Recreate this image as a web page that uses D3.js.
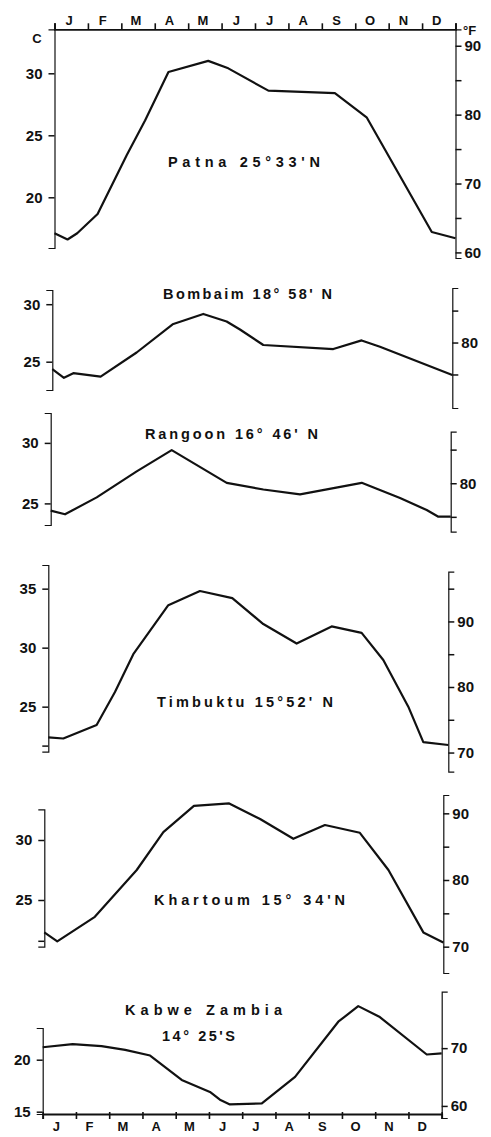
<!DOCTYPE html>
<html>
<head>
<meta charset="utf-8">
<script src="https://cdn.jsdelivr.net/npm/d3@7"></script>
<style>
  body { margin: 0; background: #fff; }
  svg text { font-family: "Liberation Sans", Arial, sans-serif; font-weight: bold; fill: #111; }
</style>
</head>
<body>
<svg id="chart" width="491" height="1137"></svg>
<script>
// Monthly mean temperature curves (°C, with a °F scale on the right)
const monthLabels = ["J", "F", "M", "A", "M", "J", "J", "A", "S", "O", "N", "D"];

// Patna 25°33'N
const patnaMonth = [0, 0.39, 0.68, 1.29, 2.16, 2.71, 3.41, 4.60, 5.20, 6.40, 8.39, 9.34, 11.29, 12];
const patnaTemp  = [17.1, 16.6, 17.1, 18.65, 23.4, 26.2, 30.1, 31.0, 30.4, 28.6, 28.4, 26.45, 17.2, 16.7];
const patnaCTicks = [30, 25, 20];
const patnaCLabels = ["30", "25", "20"];
const patnaFTicks = [90, 85, 80, 75, 70, 65, 60];
const patnaFLabels = ["90", "", "80", "", "70", "", "60"];

// Bombaim 18°58'N
const bombaimMonth = [0, 0.35, 0.63, 1.45, 2.53, 3.61, 4.53, 5.23, 5.63, 6.33, 8.43, 9.28, 9.83, 12];
const bombaimTemp  = [24.35, 23.6, 24.0, 23.7, 25.8, 28.25, 29.15, 28.5, 27.8, 26.45, 26.1, 26.85, 26.3, 23.85];
const bombaimCTicks = [30, 25];
const bombaimCLabels = ["30", "25"];
const bombaimFTicks = [85, 80, 75];
const bombaimFLabels = ["", "80", ""];

// Rangoon 16°46'N
const rangoonMonth = [0, 0.43, 1.38, 2.58, 3.63, 5.28, 6.38, 7.48, 9.33, 10.48, 11.28, 11.63, 12];
const rangoonTemp  = [24.4, 24.1, 25.5, 27.65, 29.4, 26.7, 26.15, 25.75, 26.7, 25.45, 24.45, 23.9, 23.9];
const rangoonCTicks = [30, 25];
const rangoonCLabels = ["30", "25"];
const rangoonFTicks = [85, 80, 75];
const rangoonFLabels = ["", "80", ""];

// Timbuktu 15°52'N
const timbuktuMonth = [0, 0.45, 1.45, 2.0, 2.55, 3.60, 4.55, 5.52, 6.45, 7.45, 8.50, 9.40, 10.05, 10.80, 11.25, 12];
const timbuktuTemp  = [22.4, 22.3, 23.45, 26.25, 29.45, 33.6, 34.8, 34.2, 32.0, 30.35, 31.8, 31.25, 28.95, 25.0, 22.0, 21.75];
const timbuktuCTicks = [35, 30, 25, 21.7];
const timbuktuCLabels = ["35", "30", "25", ""];
const timbuktuFTicks = [95, 90, 85, 80, 75, 70];
const timbuktuFLabels = ["", "90", "", "80", "", "70"];

// Khartoum 15°34'N
const khartoumMonth = [0, 0.39, 1.52, 2.78, 3.58, 4.50, 5.56, 6.49, 7.49, 8.44, 9.49, 10.35, 11.40, 12];
const khartoumTemp  = [22.3, 21.55, 23.6, 27.5, 30.65, 32.85, 33.05, 31.75, 30.1, 31.25, 30.6, 27.5, 22.3, 21.45];
const khartoumCTicks = [30, 25, 21.6];
const khartoumCLabels = ["30", "25", ""];
const khartoumFTicks = [90, 85, 80, 75, 70];
const khartoumFLabels = ["90", "", "80", "", "70"];

// Kabwe, Zambia 14°25'S
const kabweMonth = [0, 0.90, 1.77, 2.48, 3.23, 4.18, 5.03, 5.33, 5.63, 6.59, 7.59, 8.89, 9.49, 10.14, 11.55, 12];
const kabweTemp  = [21.2, 21.5, 21.3, 20.95, 20.4, 18.05, 16.9, 16.15, 15.7, 15.8, 18.35, 23.65, 25.15, 24.1, 20.5, 20.6];
const kabweCTicks = [20, 15];
const kabweCLabels = ["20", "15"];
const kabweFTicks = [70, 60];
const kabweFLabels = ["70", "60"];

const stationTitles = [
  ["Patna 25°33'N"],
  ["Bombaim 18° 58' N"],
  ["Rangoon 16° 46' N"],
  ["Timbuktu 15°52' N"],
  ["Khartoum 15° 34'N"],
  ["Kabwe Zambia", "14° 25'S"]
];

const stations = [
  { month: patnaMonth, temp: patnaTemp, cTicks: patnaCTicks, cLabels: patnaCLabels, fTicks: patnaFTicks, fLabels: patnaFLabels },
  { month: bombaimMonth, temp: bombaimTemp, cTicks: bombaimCTicks, cLabels: bombaimCLabels, fTicks: bombaimFTicks, fLabels: bombaimFLabels },
  { month: rangoonMonth, temp: rangoonTemp, cTicks: rangoonCTicks, cLabels: rangoonCLabels, fTicks: rangoonFTicks, fLabels: rangoonFLabels },
  { month: timbuktuMonth, temp: timbuktuTemp, cTicks: timbuktuCTicks, cLabels: timbuktuCLabels, fTicks: timbuktuFTicks, fLabels: timbuktuFLabels },
  { month: khartoumMonth, temp: khartoumTemp, cTicks: khartoumCTicks, cLabels: khartoumCLabels, fTicks: khartoumFTicks, fLabels: khartoumFLabels },
  { month: kabweMonth, temp: kabweTemp, cTicks: kabweCTicks, cLabels: kabweCLabels, fTicks: kabweFTicks, fLabels: kabweFLabels }
].map((s, i) => Object.assign(s, { title: stationTitles[i] }));

// Panel geometry: horizontal extent, vertical scale (pixels per °C around a reference value),
// axis extents and title placement.
const layout = [
  { x0: 54.5, x1: 455.5, cAt: 25,   yAt: 135.3,  k: 12.4, left: [29.3, 248],  right: [29.3, 258],   titles: [{ x: 168, y: 167, w: 152 }] },
  { x0: 52.3, x1: 452.3, cAt: 27,   yAt: 338.7,  k: 11.5, left: [290, 390],   right: [288, 408],    titles: [{ x: 163, y: 299, w: 169 }] },
  { x0: 50.7, x1: 450.7, cAt: 27,   yAt: 479.2,  k: 12.1, left: [413, 525],   right: [431.7, 531.7], titles: [{ x: 145, y: 439, w: 173 }] },
  { x0: 48.3, x1: 448.3, cAt: 28.7, yAt: 663,    k: 11.8, left: [565, 751.7], right: [571.7, 771.7], titles: [{ x: 157, y: 707, w: 176 }] },
  { x0: 44.3, x1: 443.3, cAt: 27,   yAt: 876,    k: 12.0, left: [809.3, 946.7], right: [795, 973],  titles: [{ x: 154, y: 905, w: 191 }] },
  { x0: 42.7, x1: 441.7, cAt: 18,   yAt: 1080.5, k: 10.4, left: [1028, 1114], right: [991.7, 1118], titles: [{ x: 125, y: 1015, w: 157 }, { x: 162, y: 1041, w: 73 }] }
];

const toF = c => c * 9 / 5 + 32;
const svg = d3.select("#chart");

function styleAxis(g, fontSize) {
  g.attr("font-family", null).attr("font-size", null);
  g.select(".domain").attr("stroke", "#111").attr("stroke-width", 1.2);
  g.selectAll(".tick line").attr("stroke", "#111").attr("stroke-width", 1.5);
  g.selectAll(".tick text").attr("font-size", fontSize).attr("fill", "#111");
}

const xScales = [];

stations.forEach((s, i) => {
  const L = layout[i];
  const x = d3.scaleLinear().domain([0, 12]).range([L.x0, L.x1]);
  const y = d3.scaleLinear().domain([L.cAt, L.cAt + 10]).range([L.yAt, L.yAt - 10 * L.k]);
  xScales.push(x);
  const g = svg.append("g").attr("class", "panel");

  // °C axis on the left
  const yLeft = y.copy()
    .domain([y.invert(L.left[1]), y.invert(L.left[0])])
    .range([L.left[1], L.left[0]]);
  g.append("g")
    .attr("transform", `translate(${L.x0},0)`)
    .call(d3.axisLeft(yLeft).tickValues(s.cTicks).tickFormat((d, j) => s.cLabels[j])
      .tickSizeOuter(0).tickSize(6).tickPadding(6))
    .call(a => styleAxis(a, 15));

  // °F axis on the right, converted from the same temperature scale
  const yRight = d3.scaleLinear()
    .domain([toF(y.invert(L.right[1])), toF(y.invert(L.right[0]))])
    .range([L.right[1], L.right[0]]);
  g.append("g")
    .attr("transform", `translate(${L.x1},0)`)
    .call(d3.axisRight(yRight).tickValues(s.fTicks).tickFormat((d, j) => s.fLabels[j])
      .tickSizeOuter(0).tickSize(6).tickPadding(3))
    .call(a => styleAxis(a, 15));

  // temperature curve
  const line = d3.line().x(d => x(d[0])).y(d => y(d[1]));
  g.append("path")
    .datum(d3.zip(s.month, s.temp))
    .attr("d", line)
    .attr("fill", "none")
    .attr("stroke", "#111")
    .attr("stroke-width", 2.2)
    .attr("stroke-linejoin", "round");

  // station name
  s.title.forEach((t, j) => {
    const T = L.titles[j];
    g.append("text")
      .attr("x", T.x).attr("y", T.y)
      .attr("font-size", 14.5)
      .attr("textLength", T.w)
      .attr("lengthAdjust", "spacing")
      .text(t);
  });
});

// month axis along the top (shared by all panels)
const xTop = xScales[0];
const topAxis = svg.append("g")
  .attr("transform", "translate(0,29.3)")
  .call(d3.axisTop(xTop).tickValues(d3.range(13)).tickFormat("").tickSizeOuter(0).tickSize(6));
topAxis.select(".domain").attr("stroke", "#111").attr("stroke-width", 1.8);
topAxis.selectAll(".tick line").attr("stroke", "#111").attr("stroke-width", 1.6);
svg.append("g").selectAll("text")
  .data(monthLabels)
  .join("text")
  .attr("x", (d, i) => xTop(i + 0.5) - 2)
  .attr("y", 24.5)
  .attr("text-anchor", "middle")
  .attr("font-size", 13)
  .text(d => d);

// month axis along the bottom
const xBottom = xScales[xScales.length - 1];
const bottomAxis = svg.append("g")
  .attr("transform", "translate(0,1114)")
  .call(d3.axisBottom(xBottom).tickValues(d3.range(13)).tickFormat("").tickSizeOuter(0).tickSize(5));
bottomAxis.select(".domain").attr("stroke", "#111").attr("stroke-width", 1.8);
bottomAxis.selectAll(".tick line").attr("y1", -2).attr("stroke", "#111").attr("stroke-width", 1.6);
svg.append("g").selectAll("text")
  .data(monthLabels)
  .join("text")
  .attr("x", (d, i) => xBottom(i + 0.5) - 3)
  .attr("y", 1131)
  .attr("text-anchor", "middle")
  .attr("font-size", 13)
  .text(d => d);

// unit labels
svg.append("text").attr("x", 37).attr("y", 43).attr("text-anchor", "middle").attr("font-size", 13).text("C");
svg.append("text").attr("x", 463).attr("y", 35).attr("font-size", 13).text("°F");
</script>
</body>
</html>
